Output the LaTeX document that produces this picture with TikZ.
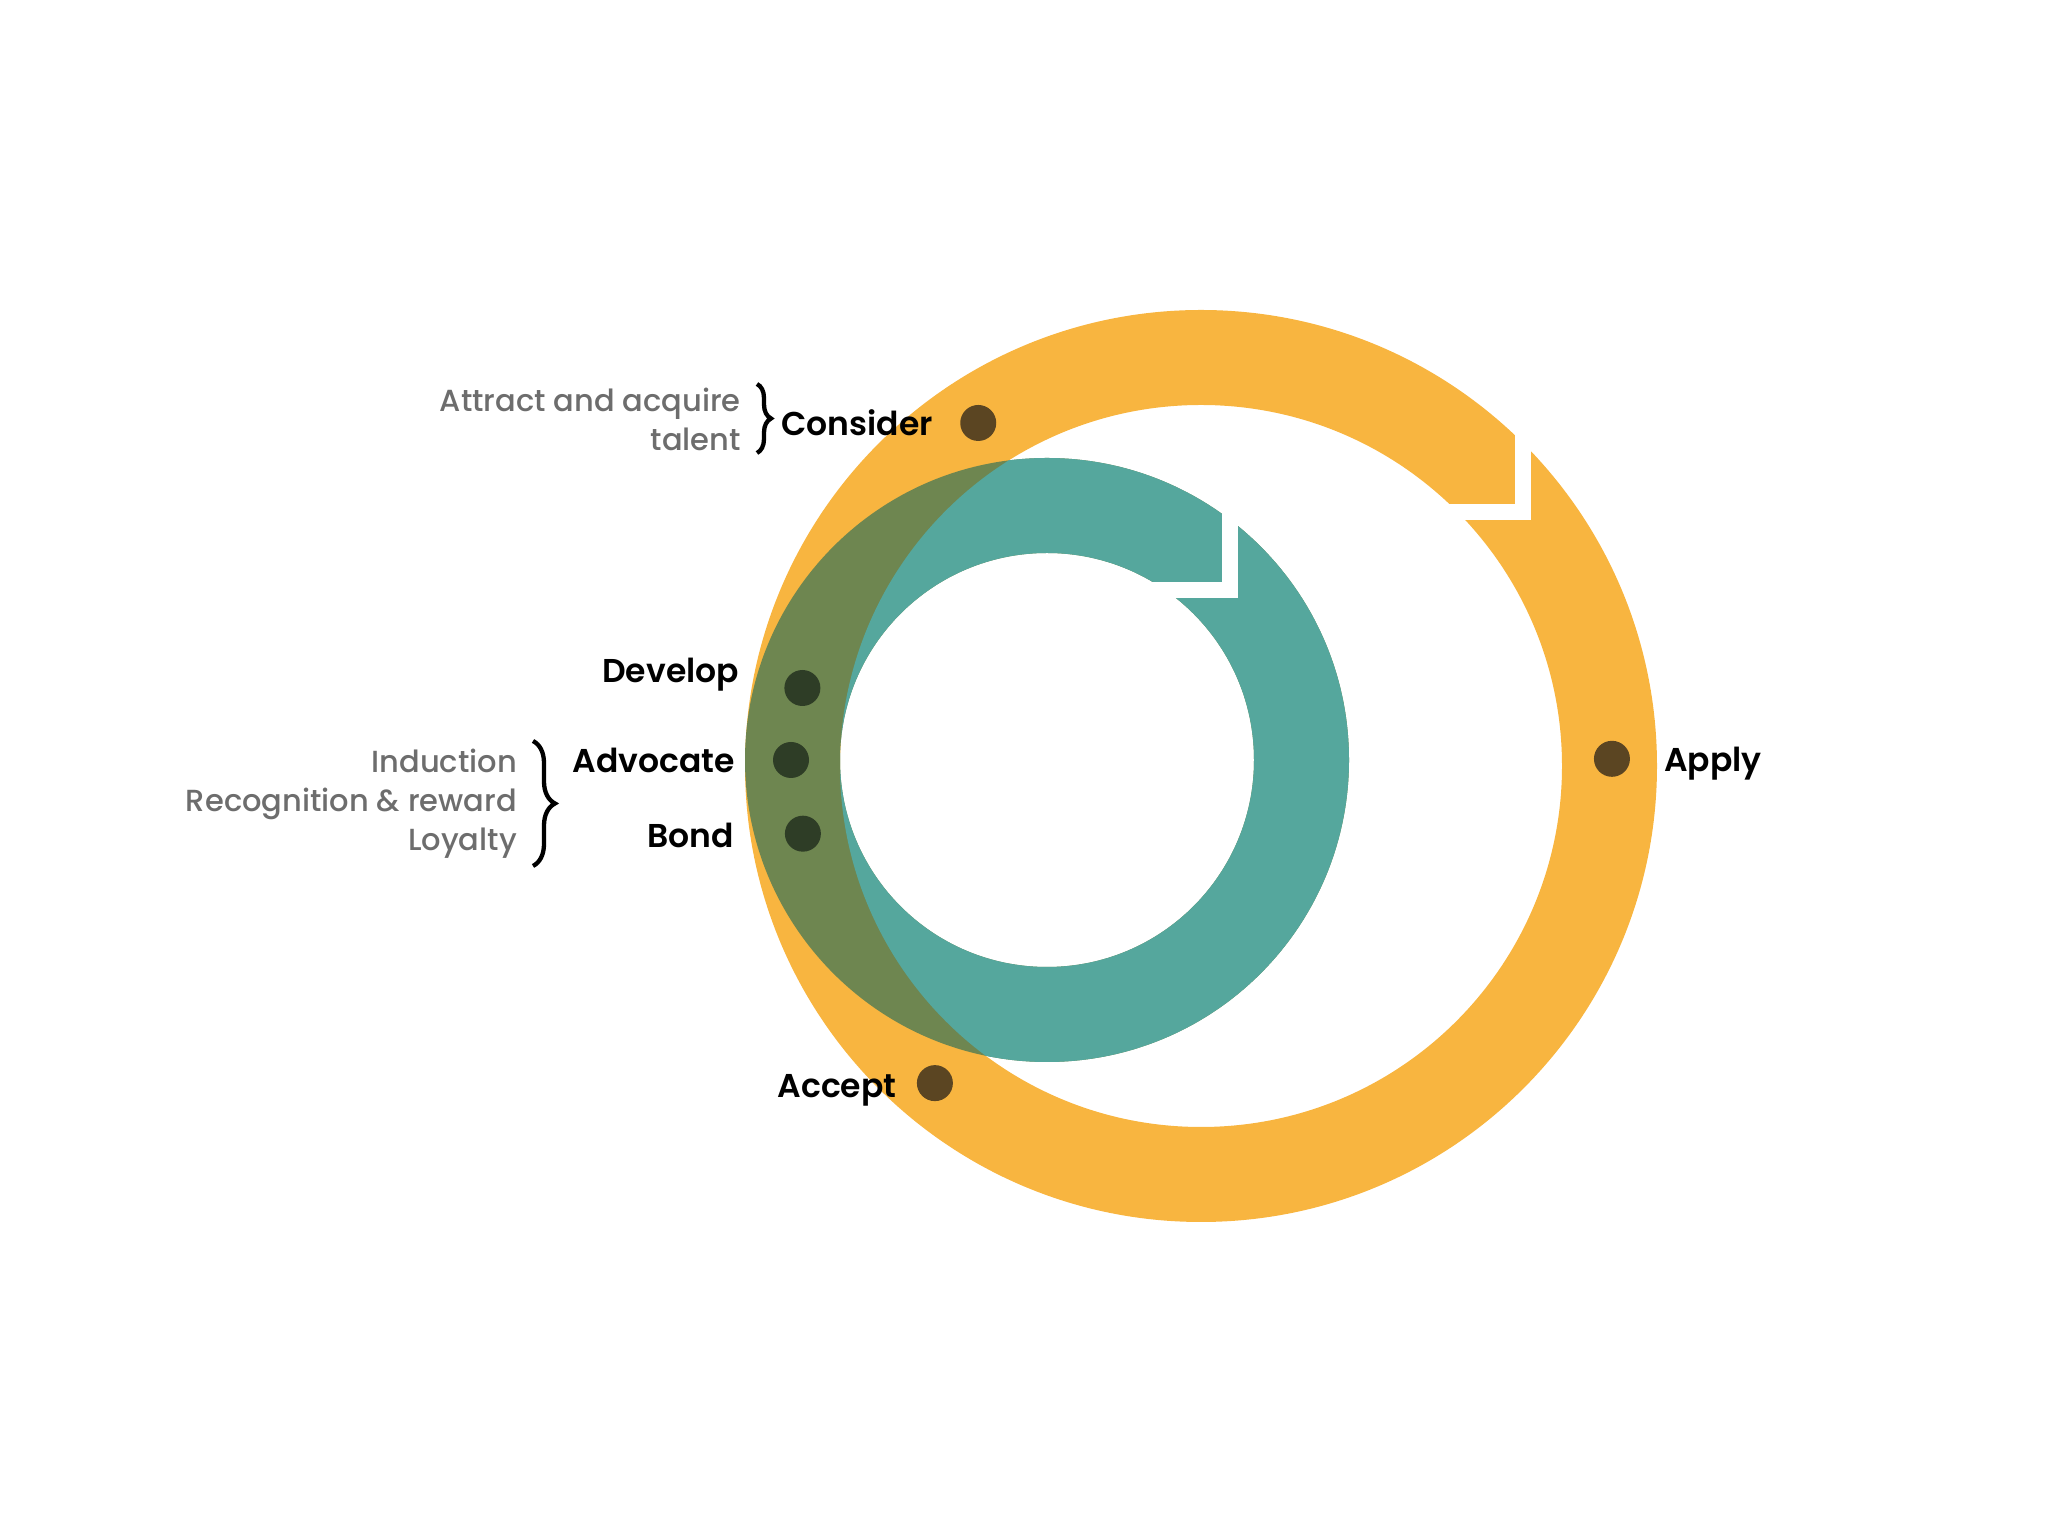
\documentclass[tikz,border=0pt]{standalone}
\usepackage{fontspec}
\setmainfont{Poppins}
\IfFontExistsTF{Poppins SemiBold}{\newfontfamily\labelfont{Poppins SemiBold}}{\newcommand\labelfont{\bfseries}}
\IfFontExistsTF{Poppins Medium}{\newfontfamily\notefont{Poppins Medium}}{\newcommand\notefont{}}
\usetikzlibrary{positioning,decorations.pathreplacing}

\begin{document}
\begin{tikzpicture}[
        x=1pt, y=1pt, % one unit is one pixel of the picture
        dot/.style={circle, inner sep=0pt, minimum size=36pt},
        lbl/.style={inner sep=0pt, text=black, font=\labelfont\fontsize{33}{40}\selectfont},
        note/.style={inner sep=0pt, align=right, text=notegray, font=\notefont\fontsize{30.5}{39}\selectfont},
        bracket/.style={decorate, decoration={brace, amplitude=#1}, line width=4.3pt}
        ]

        % 1. Colours
        \definecolor{ringorange}{HTML}{F8B540}
        \definecolor{ringteal}{HTML}{55A79D}
        \definecolor{ringolive}{HTML}{6E8650}
        \definecolor{dotbrown}{HTML}{5B4522}
        \definecolor{dotgreen}{HTML}{2E3D26}
        \definecolor{notegray}{HTML}{6D6D6D}

        \useasboundingbox (0,0) rectangle (2048,1536);

        % 2. Ring centres and radii
        \coordinate (O) at (1201,770); % outer ring
        \coordinate (T) at (1047,776); % inner ring
        \def\Ro{456} \def\ro{361}
        \def\Rt{302} \def\rt{207}

        % 3. Rings
        \fill[ringorange, even odd rule] (O) circle (\Ro) (O) circle (\ro);
        % teal ring is olive where it lies on the orange one
        \fill[ringolive, even odd rule] (T) circle (\Rt) (T) circle (\rt);
        \begin{scope}
            \clip (O) circle (\ro);
            \fill[ringteal, even odd rule] (T) circle (\Rt) (T) circle (\rt);
        \end{scope}

        % chevron cuts (arrow heads)
        \coordinate (cutO) at (1523,1024);
        \coordinate (cutT) at (1230,946);
        \draw[white, line width=16pt, line join=miter] ([yshift=80pt]cutO) -- (cutO) -- ([xshift=-100pt]cutO);
        \draw[white, line width=16pt, line join=miter] ([yshift=80pt]cutT) -- (cutT) -- ([xshift=-90pt]cutT);

        % 4. Dots
        \node[dot, fill=dotbrown] (dCon) at ([shift={(123:409)}]O) {};
        \node[dot, fill=dotbrown] (dApp) at ([shift={(1:411)}]O) {};
        \node[dot, fill=dotbrown] (dAcc) at ([shift={(230:414)}]O) {};
        \node[dot, fill=dotgreen] (dDev) at ([shift={(163.6:255)}]T) {};
        \node[dot, fill=dotgreen] (dAdv) at ([shift={(180:256)}]T) {};
        \node[dot, fill=dotgreen] (dBon) at ([shift={(196.8:255)}]T) {};

        % 5. Stage labels
        \node[lbl, left=27pt of dCon] (lCon) {Consider};
        \node[lbl, right=34pt of dApp, yshift=-5pt] (lApp) {Apply};
        \node[lbl, left=20pt of dAcc, yshift=-7pt] (lAcc) {Accept};
        \node[lbl, left=45pt of dDev, yshift=13pt] (lDev) {Develop};
        \node[lbl, left=38pt of dAdv] (lAdv) {Advocate};
        \node[lbl, left=51pt of dBon, yshift=-2pt] (lBon) {Bond};

        % 6. Braces and notes
        \coordinate (bA1) at (757,1152);
        \coordinate (bA2) at (757,1083);
        \draw[bracket=14pt] (bA1) -- (bA2);
        \node[note, anchor=east] (nAttract) at (741,1117) {Attract and acquire\\talent};

        \coordinate (bB1) at (533,795);
        \coordinate (bB2) at (533,670);
        \draw[bracket=22pt] (bB1) -- (bB2);
        \node[note, anchor=east] (nKeep) at (517,732) {Induction\\Recognition \& reward\\Loyalty};
    \end{tikzpicture}
\end{document}
